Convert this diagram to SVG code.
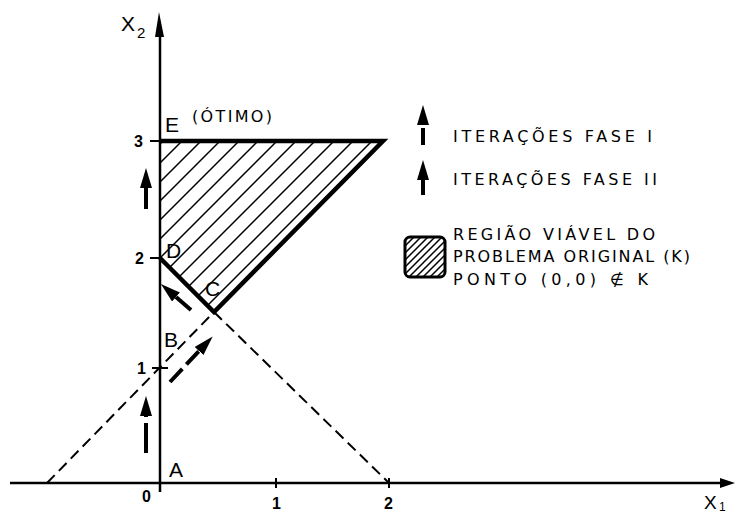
<svg xmlns="http://www.w3.org/2000/svg" width="736" height="513" viewBox="0 0 736 513">
<style>
.ln{stroke:#000;fill:none;stroke-linecap:butt}
.axis{stroke-width:2.5}
.thick{stroke-width:4.5;stroke-linejoin:miter}
.dash{stroke-width:2;stroke-dasharray:11 6}
.arr{stroke-width:4;marker-end:url(#head)}
.tick{stroke-width:2}
text{font-family:"Liberation Sans","DejaVu Sans",Arial,sans-serif;fill:#000}
.pt{font-size:21px}
.num{font-size:16px;font-weight:bold}
.leg{font-size:16px;font-family:"DejaVu Sans","Liberation Sans",sans-serif}
</style>
<defs>
<pattern id="hatch" patternUnits="userSpaceOnUse" width="19" height="19">
<path d="M-2,2 L2,-2 M0,19 L19,0 M17,21 L21,17" stroke="#000" stroke-width="1.5"/>
</pattern>
<pattern id="hatch2" patternUnits="userSpaceOnUse" width="7" height="7">
<path d="M-1,1 L1,-1 M0,7 L7,0 M6,8 L8,6" stroke="#000" stroke-width="1.5"/>
</pattern>
<marker id="head" markerUnits="userSpaceOnUse" viewBox="0 0 20 12" refX="0" refY="6" markerWidth="20" markerHeight="12" orient="auto">
<path d="M0,0 L20,6 L0,12 Z" fill="#000"/>
</marker>
</defs>

<g id="region">
<polygon points="160,141 383,141 214,312 160,258" fill="url(#hatch)"/>
<polyline class="ln thick" points="160,141 383,141 214,312 160,258"/>
</g>

<g id="axes">
<line class="ln axis" x1="10" y1="483" x2="722" y2="483"/>
<polygon points="720,478 735,483 720,488" fill="#000"/>
<line class="ln axis" x1="160" y1="492" x2="160" y2="35"/>
<polygon points="155,37 159,12 164,37" fill="#000"/>
<line class="ln tick" x1="150" y1="141" x2="160" y2="141"/>
<line class="ln tick" x1="150" y1="258" x2="160" y2="258"/>
<line class="ln tick" x1="152" y1="368" x2="168" y2="368"/>
<line class="ln tick" x1="276" y1="478" x2="276" y2="488"/>
<line class="ln tick" x1="389" y1="478" x2="389" y2="488"/>
</g>

<g id="connectors">
<line class="ln dash" x1="47" y1="483" x2="214" y2="312"/>
<line class="ln dash" x1="214" y1="312" x2="389" y2="483"/>
<line class="ln arr" x1="146" y1="453" x2="146" y2="416" style="stroke-dasharray:30 6"/>
<line class="ln arr" x1="170" y1="382" x2="199" y2="351" style="stroke-dasharray:18 6"/>
<line class="ln arr" x1="191" y1="310" x2="176" y2="297"/>
<line class="ln arr" x1="146" y1="209" x2="146" y2="188"/>
</g>

<g id="labels">
<text class="pt" x="121" y="31">X</text>
<text x="137" y="38" style="font-size:15px">2</text>
<text x="704" y="509" style="font-size:19px">X</text>
<text x="719" y="511" style="font-size:12px">1</text>
<text class="pt" x="165" y="132">E</text>
<text class="leg" x="192" y="122" textLength="80" lengthAdjust="spacing">(ÓTIMO)</text>
<text class="pt" x="166" y="258">D</text>
<text class="pt" x="205" y="296">C</text>
<text class="pt" x="164" y="347">B</text>
<text class="pt" x="169" y="477">A</text>
<text class="num" x="134" y="147">3</text>
<text class="num" x="135" y="264">2</text>
<text class="num" x="137" y="374">1</text>
<text class="num" x="142" y="502">0</text>
<text class="num" x="272" y="509">1</text>
<text class="num" x="384" y="509">2</text>
</g>

<g id="legend">
<line class="ln arr" x1="423" y1="145" x2="423" y2="125" style="stroke-dasharray:17 5"/>
<text class="leg" x="453" y="142" textLength="199" lengthAdjust="spacing">ITERAÇÕES FASE I</text>
<line class="ln arr" x1="423" y1="195" x2="423" y2="180"/>
<text class="leg" x="453" y="185" textLength="204" lengthAdjust="spacing">ITERAÇÕES FASE II</text>
<rect x="405" y="237" width="40" height="40" rx="5" fill="url(#hatch2)" stroke="#000" stroke-width="3"/>
<text class="leg" x="453" y="240" textLength="202" lengthAdjust="spacing">REGIÃO VIÁVEL DO</text>
<text class="leg" x="453" y="262" textLength="237" lengthAdjust="spacing">PROBLEMA ORIGINAL (K)</text>
<text class="leg" x="453" y="285" textLength="195" lengthAdjust="spacing">PONTO (0,0) ∉ K</text>
</g>
</svg>
